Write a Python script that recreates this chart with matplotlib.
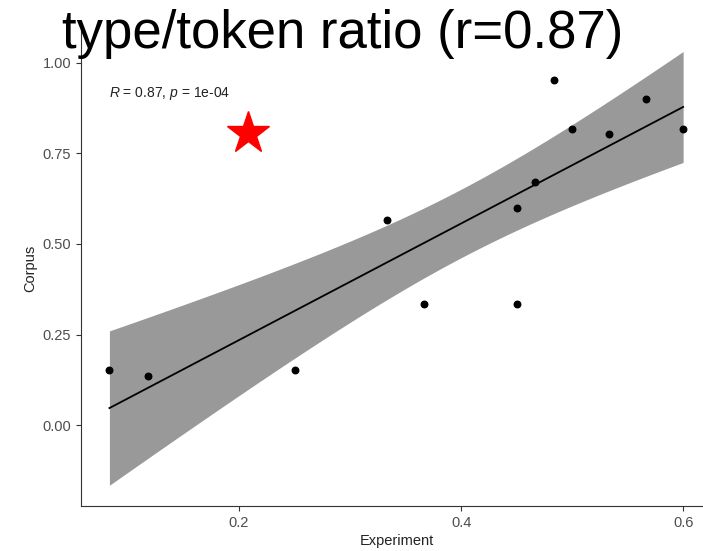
import numpy as np
import matplotlib
matplotlib.use("Agg")
import matplotlib.pyplot as plt

plt.rcParams['font.family'] = ['Liberation Sans', 'DejaVu Sans']
plt.rcParams['mathtext.fontset'] = 'custom'
plt.rcParams['mathtext.rm'] = 'Liberation Sans'
plt.rcParams['mathtext.it'] = 'Liberation Sans:italic'

# type/token ratios per item
experiment = [0.0833, 0.1176, 0.25, 0.3333, 0.3667, 0.45, 0.45, 0.4667, 0.4833, 0.5, 0.5333, 0.5667, 0.6]
corpus = [0.152, 0.135, 0.152, 0.567, 0.333, 0.333, 0.6, 0.671, 0.951, 0.818, 0.802, 0.9, 0.818]
star_x, star_y = 0.208, 0.805

x = np.array(experiment)
y = np.array(corpus)
n = len(x)

# least squares fit with 95% confidence band
slope, intercept = np.polyfit(x, y, 1)
resid = y - (slope * x + intercept)
s = np.sqrt(np.sum(resid ** 2) / (n - 2))
sxx = np.sum((x - x.mean()) ** 2)
t_crit = 2.201  # t(0.975, df=11)
xs = np.linspace(x.min(), x.max(), 80)
fit = slope * xs + intercept
se = s * np.sqrt(1 / n + (xs - x.mean()) ** 2 / sxx)

fig = plt.figure(figsize=(7.03, 5.51), dpi=100)
ax = fig.add_axes([81 / 703, 45 / 551, 631 / 703, 476 / 551])

ax.fill_between(xs, fit - t_crit * se, fit + t_crit * se, color='#999999', lw=0)
ax.plot(xs, fit, color='black', lw=1.3)
ax.scatter(x, y, s=22, color='black', zorder=3)
ax.plot(star_x, star_y, marker='*', color='red', markersize=32, zorder=4)

ax.text(x.min(), 0.916, r'$R$ = 0.87, $p$ = 1e-04', fontsize=10, va='center', ha='left', color='#222222')

ax.set_xlim(0.0577, 0.626)
ax.set_ylim(-0.223, 1.09)
ax.set_xticks([0.2, 0.4, 0.6])
ax.set_xticklabels(['0.2', '0.4', '0.6'])
ax.set_yticks([0.0, 0.25, 0.5, 0.75, 1.0])
ax.set_yticklabels(['0.00', '0.25', '0.50', '0.75', '1.00'])
for sp in ['top', 'right']:
    ax.spines[sp].set_visible(False)
for sp in ['left', 'bottom']:
    ax.spines[sp].set_color('#333333')
    ax.spines[sp].set_linewidth(0.8)
ax.tick_params(direction='out', length=3.5, width=0.8, color='#333333', labelcolor='#4d4d4d', labelsize=10.5)
ax.set_xlabel('Experiment', fontsize=10.5, color='#222222', labelpad=3)
ax.set_ylabel('Corpus', fontsize=10.5, color='#222222', labelpad=4)

fig.text(62 / 703, 1 - 48 / 551, 'type/token ratio (r=0.87)', fontsize=38, va='baseline', ha='left')

fig.savefig('out.png', dpi=100)
